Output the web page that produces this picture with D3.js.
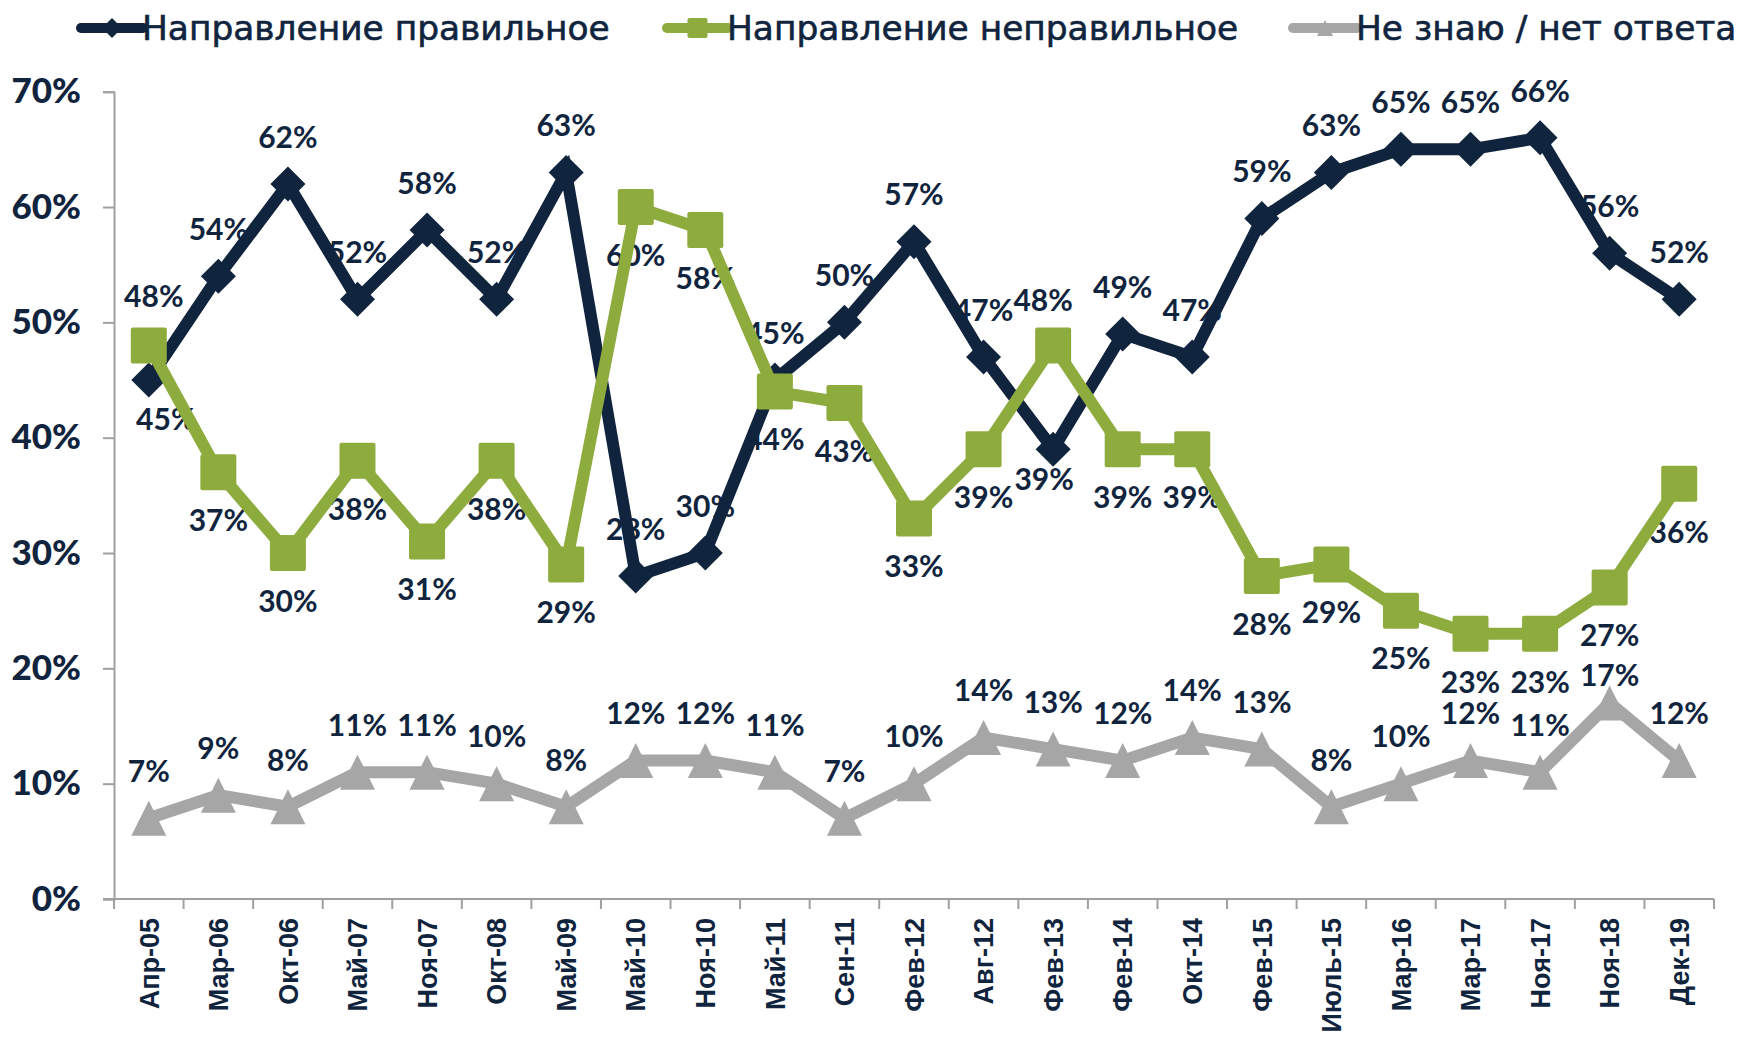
<!DOCTYPE html>
<html>
<head>
<meta charset="utf-8">
<script src="https://cdn.jsdelivr.net/npm/d3@7"></script>
<style>
html,body{margin:0;padding:0;background:#fff;}
svg{display:block;}
</style>
</head>
<body>
<svg id="chart" width="1738" height="1039"></svg>
<script>
// ---- data ----
const categories = ["Апр-05","Мар-06","Окт-06","Май-07","Ноя-07","Окт-08","Май-09","Май-10","Ноя-10","Май-11","Сен-11","Фев-12","Авг-12","Фев-13","Фев-14","Окт-14","Фев-15","Июль-15","Мар-16","Мар-17","Ноя-17","Ноя-18","Дек-19"];
const seriesNames = ["Направление правильное","Направление неправильное","Не знаю / нет ответа"];
const rightValues = [45,54,62,52,58,52,63,28,30,45,50,57,47,39,49,47,59,63,65,65,66,56,52];
const wrongValues = [48,37,30,38,31,38,29,60,58,44,43,33,39,48,39,39,28,29,25,23,23,27,36];
const dkValues    = [7,9,8,11,11,10,8,12,12,11,7,10,14,13,12,14,13,8,10,12,11,17,12];
const yTickValues = [0,10,20,30,40,50,60,70];

// label placement ('a' above / 'b' below)
const rightLabelPos = ["b","a","a","a","a","a","a","a","a","a","a","a","a","b","a","a","a","a","a","a","a","a","a"];
const wrongLabelPos = ["a","b","b","b","b","b","b","b","b","b","b","b","b","a","b","b","b","b","b","b","b","b","b"];
const dkLabelPos    = categories.map(() => "a");
const labelNudge = {"0-0":[17,-9],"0-13":[-9,-18],"1-0":[5,-2],"1-13":[-10,2],"2-21":[0,19]};

// ---- styles ----
const NAVY = "#10243e", GREEN = "#8eac3e", GREY = "#a6a6a6", AXIS = "#a0a0a0";
const W = 1738, H = 1039;
const svg = d3.select("#chart");

const x = d3.scaleBand().domain(categories).range([114, 1714]).paddingInner(0).paddingOuter(0);
const y = d3.scaleLinear().domain([0, 70]).range([899, 91.7]);

// y axis
const yAxis = svg.append("g").attr("transform", "translate(114,0)")
  .call(d3.axisLeft(y).tickValues(yTickValues).tickSize(11).tickPadding(22).tickFormat(d => d + "%"));
yAxis.select(".domain").attr("stroke", AXIS).attr("stroke-width", 2);
yAxis.selectAll(".tick line").attr("stroke", AXIS).attr("stroke-width", 2);
yAxis.selectAll(".tick text").attr("fill", NAVY)
  .style("font-family", "Lato, 'Open Sans', sans-serif").style("font-weight", 900).style("font-size", "35px");

// x axis
const xAxis = svg.append("g").attr("transform", "translate(0,899)")
  .call(d3.axisBottom(x).tickSize(0).tickPadding(0));
xAxis.select(".domain").remove();
xAxis.selectAll(".tick text")
  .attr("transform", "rotate(-90)")
  .attr("x", -19).attr("y", 0).attr("dy", "0.36em")
  .style("text-anchor", "end")
  .attr("fill", NAVY)
  .style("font-family", "'Liberation Sans', Arial, sans-serif").style("font-weight", 700).style("font-size", "27px");
svg.append("line").attr("x1", 103).attr("x2", x.range()[1]).attr("y1", 899).attr("y2", 899)
  .attr("stroke", AXIS).attr("stroke-width", 2);
const boundaries = categories.map(c => x(c)).concat([x.range()[1]]);
svg.append("g").selectAll("line").data(boundaries).join("line")
  .attr("x1", d => d).attr("x2", d => d).attr("y1", 899).attr("y2", 909)
  .attr("stroke", AXIS).attr("stroke-width", 2);

const series = [
  {values: rightValues, pos: rightLabelPos, color: NAVY, marker: "diamond"},
  {values: wrongValues, pos: wrongLabelPos, color: GREEN, marker: "square"},
  {values: dkValues, pos: dkLabelPos, color: GREY, marker: "triangle"}
];
const cx = c => x(c) + x.bandwidth() / 2;

// labels (beneath lines)
const labelG = svg.append("g");
series.forEach((s, si) => {
  s.values.forEach((v, i) => {
    const nudge = labelNudge[si + "-" + i] || [0, 0];
    const off = s.pos[i] === "a" ? -47 : 48;
    labelG.append("text")
      .attr("x", cx(categories[i]) + nudge[0])
      .attr("y", y(v) + off + nudge[1])
      .attr("dy", "0.36em")
      .attr("text-anchor", "middle")
      .attr("fill", NAVY)
      .style("font-family", "Lato, 'Open Sans', sans-serif").style("font-weight", 700).style("font-size", "30px")
      .text(v + "%");
  });
});

function drawMarker(g, type, px, py, color, sz) {
  if (type === "diamond") {
    const h = sz / 2;
    g.append("path").attr("d", `M${px},${py - h}L${px + h},${py}L${px},${py + h}L${px - h},${py}Z`).attr("fill", color);
  } else if (type === "square") {
    g.append("rect").attr("x", px - sz / 2).attr("y", py - sz / 2).attr("width", sz).attr("height", sz)
      .attr("rx", 2).attr("fill", color);
  } else {
    const h = sz / 2;
    g.append("path").attr("d", `M${px},${py - h}L${px + h},${py + h}L${px - h},${py + h}Z`).attr("fill", color);
  }
}

const line = d3.line().x((d, i) => cx(categories[i])).y(d => y(d));
series.forEach(s => {
  const g = svg.append("g");
  g.append("path").datum(s.values).attr("d", line)
    .attr("fill", "none").attr("stroke", s.color).attr("stroke-width", 12).attr("stroke-linejoin", "miter");
  const sz = s.marker === "diamond" ? 35 : (s.marker === "square" ? 36 : 35);
  s.values.forEach((v, i) => drawMarker(g, s.marker, cx(categories[i]), y(v), s.color, sz));
});

// legend
const legendItems = [
  {name: seriesNames[0], color: NAVY, marker: "diamond", x1: 81, x2: 143},
  {name: seriesNames[1], color: GREEN, marker: "square", x1: 667, x2: 728},
  {name: seriesNames[2], color: GREY, marker: "triangle", x1: 1293, x2: 1357}
];
const lg = svg.append("g");
legendItems.forEach(it => {
  lg.append("line").attr("x1", it.x1).attr("x2", it.x2).attr("y1", 28).attr("y2", 28)
    .attr("stroke", it.color).attr("stroke-width", 10).attr("stroke-linecap", "round");
  const mx = (it.x1 + it.x2) / 2;
  drawMarker(lg, it.marker, mx, 28, it.color, it.marker === "diamond" ? 20 : (it.marker === "square" ? 20 : 16));
  lg.append("text").attr("x", it.x2 - 1).attr("y", 40)
    .attr("fill", NAVY).attr("stroke", NAVY).attr("stroke-width", 0.6)
    .style("font-family", "'DejaVu Sans', sans-serif").style("font-size", "34.4px")
    .text(it.name);
});
</script>
</body>
</html>
